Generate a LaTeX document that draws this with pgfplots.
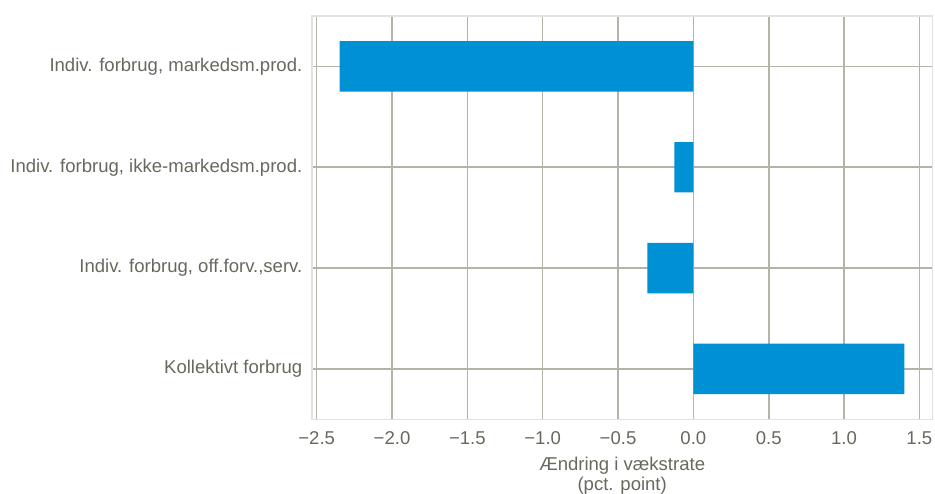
\documentclass[border=0pt]{standalone}
\usepackage{pgfplots}
\pgfplotsset{compat=1.18}
\usepackage{fontspec}
\setmainfont{Liberation Sans}
\definecolor{barblue}{RGB}{0,145,213}
\definecolor{gridgray}{RGB}{181,179,167}
\definecolor{framegray}{RGB}{226,226,226}
\definecolor{txtgray}{RGB}{104,104,94}
\begin{document}
\begin{tikzpicture}
  \begin{axis}[
      scale only axis,
      width=465.2pt, height=302.5pt,
      xmin=-2.531, xmax=1.586, ymin=-0.5, ymax=3.5,
      xtick={-2.5,-2,-1.5,-1,-0.5,0,0.5,1,1.5},
      xticklabels={−2.5,−2.0,−1.5,−1.0,−0.5,0.0,0.5,1.0,1.5},
      ytick={0,1,2,3},
      yticklabels={Kollektivt forbrug,{Indiv. forbrug, off.forv.,serv.},{Indiv. forbrug, ikke-markedsm.prod.},{Indiv. forbrug, markedsm.prod.}},
      xmajorgrids, ymajorgrids,
      grid style={gridgray, line width=1.2pt},
      major tick length=0pt,
      axis line style={framegray, line width=0.8pt},
      ticklabel style={font=\fontsize{13.9}{16}\selectfont, text=txtgray},
      xticklabel style={yshift=-5.5pt},
      yticklabel style={xshift=-3.8pt},
      xlabel={Ændring i vækstrate\\(pct. point)},
      xlabel style={align=center, font=\fontsize{13.9}{14.5}\selectfont, text=txtgray, yshift=-2.8pt},
    ]
    \addplot[xbar, fill=barblue, draw=none, bar width=0.5] coordinates {
      (1.40,0) (-0.305,1) (-0.126,2) (-2.348,3)
    };
    \coordinate (sw) at (rel axis cs:0,0);
    \coordinate (ne) at (rel axis cs:1,1);
  \end{axis}
  \pgfresetboundingbox
  \path ([shift={(-234pt,-55.3pt)}]sw) rectangle ([shift={(2pt,12pt)}]ne);
\end{tikzpicture}
\end{document}
